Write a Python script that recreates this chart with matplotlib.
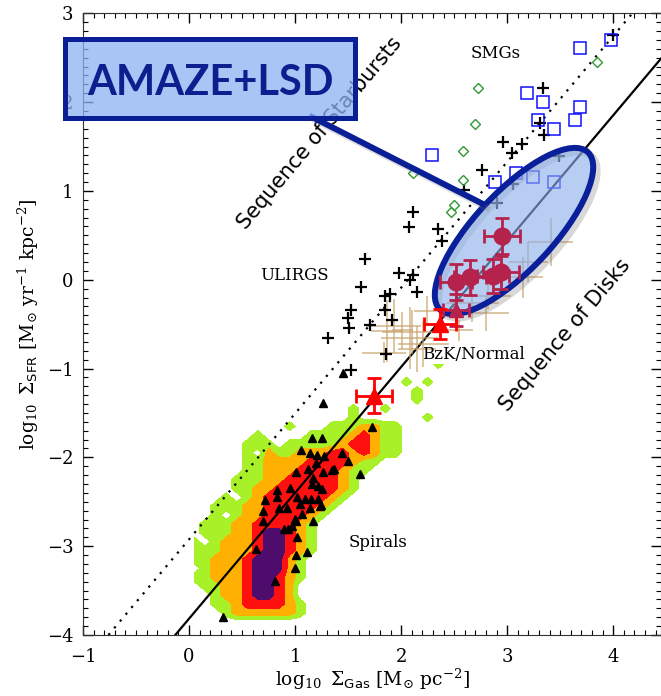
import numpy as np
import matplotlib
matplotlib.use("Agg")
import matplotlib.pyplot as plt
from matplotlib.patches import Ellipse, Rectangle
from matplotlib.lines import Line2D
from matplotlib.ticker import MultipleLocator

plt.rcParams['font.family'] = ['DejaVu Serif']
plt.rcParams['mathtext.fontset'] = 'dejavuserif'

# --- relations (sequence of disks / starbursts), end points ---
disk_x = [-0.13, 4.45]
disk_y = [-4.0, 2.49]
burst_x = [-0.76, 4.18]
burst_y = [-4.0, 3.0]

# local spirals (black triangles)
spirals = np.array([
    (1.261, -1.391), (1.157, -1.782), (1.251, -1.782), (1.057, -1.917), (1.141, -1.955),
    (1.211, -1.970), (1.274, -1.981), (1.198, -2.064), (1.126, -2.131), (1.009, -2.169),
    (1.267, -2.169), (1.167, -2.233), (1.157, -2.300), (0.833, -2.368), (0.953, -2.346),
    (0.717, -2.481), (0.833, -2.451), (1.016, -2.443), (1.094, -2.473), (1.148, -2.473),
    (1.220, -2.473), (1.047, -2.526), (0.928, -2.571), (0.701, -2.609), (0.852, -2.571),
    (1.141, -2.571), (1.236, -2.545), (1.069, -2.639), (1.000, -2.695), (0.695, -2.721),
    (0.896, -2.808), (0.937, -2.808), (1.009, -2.714), (1.173, -2.714), (0.975, -2.770),
    (1.016, -2.894), (0.632, -3.033), (1.110, -3.060), (1.009, -3.097), (1.000, -3.240),
    (0.811, -3.390), (0.318, -3.800), (1.450, -1.053), (1.726, -1.661), (1.440, -1.955),
    (1.503, -2.037), (1.346, -2.142), (1.368, -2.131), (1.613, -2.188), (1.214, -2.319),
    (1.258, -2.357), (1.245, -2.533),
])

# ULIRGs (black plus)
ulirgs = np.array([
    (3.995, 2.754), (3.336, 2.157), (3.311, 1.766), (3.350, 1.627), (2.958, 1.546),
    (3.138, 1.530), (3.046, 1.424), (2.761, 1.232), (3.486, 1.390), (3.056, 1.075),
    (2.902, 0.860), (2.594, 1.007), (2.352, 0.571), (2.384, 0.436), (2.116, 0.761),
    (2.072, 0.594), (1.657, 0.233), (1.975, 0.075), (2.107, 0.052), (2.079, -0.005),
    (1.624, -0.080), (2.148, -0.137), (1.849, -0.180), (1.896, -0.166), (1.846, -0.343),
    (1.525, -0.343), (1.497, -0.429), (1.511, -0.545), (1.703, -0.515), (1.312, -0.652),
    (1.915, -0.452), (1.859, -0.835), (1.528, -1.015),
])

# SMGs (open blue squares)
smgs = np.array([
    (3.682, 2.604), (3.981, 2.698), (3.185, 2.104), (3.336, 2.003), (3.682, 1.950),
    (3.286, 1.803), (3.635, 1.803), (3.437, 1.702), (2.887, 1.101), (3.085, 1.202),
    (3.239, 1.157), (3.437, 1.101), (2.289, 1.402),
])

# high-z starbursts (open green diamonds)
hiz_sb = np.array([
    (2.720, 2.160), (2.698, 1.758), (2.580, 1.450), (2.580, 1.120), (2.500, 0.838),
    (2.468, 0.763), (3.850, 2.454), (2.116, 1.200),
])

# BzK / normal galaxies (tan error crosses)
bzk_x = [1.93, 2.10, 2.08, 2.21, 1.84, 1.87, 2.24, 2.67, 2.80, 2.55, 3.20, 3.41, 2.82, 2.01, 2.15, 3.15]
bzk_y = [-0.52, -0.59, -0.66, -0.72, -0.82, -0.58, -0.35, -0.26, -0.38, -0.57, 0.20, 0.42, -0.18, -0.57, -0.78, 0.03]
bzk_xerr = [0.26, 0.28, 0.27, 0.24, 0.21, 0.15, 0.12, 0.25, 0.22, 0.13, 0.18, 0.21, 0.22, 0.10, 0.18, 0.19]
bzk_yerr = [0.30, 0.25, 0.35, 0.26, 0.12, 0.35, 0.17, 0.22, 0.20, 0.12, 0.23, 0.27, 0.15, 0.21, 0.26, 0.23]

# AMAZE + LSD
amaze_x = [2.950, 2.515, 2.648, 2.863, 2.942]
amaze_y = [0.490, -0.027, 0.026, 0.043, 0.082]
amaze_xerr = [0.17, 0.15, 0.15, 0.15, 0.17]
amaze_yerr = [0.20, 0.20, 0.20, 0.19, 0.19]
lsd_x = [2.515]
lsd_y = [-0.346]
lsd_xerr = [0.12]
lsd_yerr = [0.18]

# stacked points (big red triangles)
stack_x = [2.368, 1.745]
stack_y = [-0.496, -1.304]
stack_xerr = [0.15, 0.17]
stack_yerr = [0.17, 0.20]

# density of local spiral pixels: 0 none, 1 green, 2 orange, 3 red, 4 purple
dens_x = np.round(np.arange(0.05, 2.5, 0.1), 2)
dens_y = np.round(np.arange(-0.95, -3.9, -0.1), 2)
dens_rows = [
    "0000000000000000000000010",
    "0000000000000000000000000",
    "0000000000000000000010100",
    "0000000000000000000001000",
    "0000000000000000000001000",
    "0000000000000001001000000",
    "0000000000000001000000100",
    "0000000001000111221100000",
    "0000001000011112321100000",
    "0000011101111123321100000",
    "0000010211222332321100000",
    "0000011222233332110000000",
    "0000011222333321100000000",
    "0000111223333321000000000",
    "0000112233333321000000000",
    "0001012333333210000000000",
    "0011122333332100000000000",
    "0010122333321000000000000",
    "0111223333210000000000000",
    "0111223443210000000000000",
    "1012223443210000000000000",
    "1112223443210000000000000",
    "1122234442100000000000000",
    "0122234442100000000000000",
    "1122234432100000000000000",
    "0112234432000000000000000",
    "0012234432000000000000000",
    "0011233332100000000000000",
    "0001222222100000000000000",
    "0000000000000000000000000",
]
dens = np.array([[int(c) for c in r] for r in dens_rows])

labels = ["SMGs", "ULIRGS", "BzK/Normal", "Spirals"]
label_x = [2.89, 0.995, 2.68, 1.78]
label_y = [2.55, 0.05, -0.84, -2.96]

fig = plt.figure(figsize=(6.61, 6.96), dpi=100)
ax = fig.add_axes([83 / 661, 61 / 696, 578 / 661, 621.7 / 696])

ax.contourf(dens_x, dens_y[::-1], dens[::-1], levels=[0.5, 1.5, 2.5, 3.5, 4.5],
            colors=['#a8f028', '#ffb000', '#ff1010', '#4e0c6c'], zorder=1)

ax.plot(disk_x, disk_y, color='black', lw=1.6, zorder=2)
ax.plot(burst_x, burst_y, color='black', lw=1.6, ls=(0, (1, 3)), zorder=2)

ax.plot(spirals[:, 0], spirals[:, 1], '^', color='black', ms=5.5, zorder=3)

ax.errorbar(bzk_x, bzk_y, xerr=bzk_xerr, yerr=bzk_yerr, fmt='none',
            ecolor='#c9a46e', elinewidth=1.2, alpha=0.75, zorder=3)

ax.plot(ulirgs[:, 0], ulirgs[:, 1], '+', color='black', ms=8, mew=1.6, zorder=4)
ax.plot(smgs[:, 0], smgs[:, 1], 's', mfc='none', mec='#1010ff', ms=8, mew=1.1, zorder=4)
ax.plot(hiz_sb[:, 0], hiz_sb[:, 1], 'D', mfc='none', mec='#2f9a2f', ms=5, mew=1.0, zorder=4)

# highlighted ellipse (pixel based, inches transform)
tr = fig.dpi_scale_trans
ax.add_patch(Ellipse((5.18, (696 - 235) / 100), 2.16, 0.78, angle=46.8, transform=tr,
                     facecolor='none', edgecolor='gray', lw=5, alpha=0.3, zorder=4.8,
                     clip_on=False))
ax.add_patch(Ellipse((5.14, (696 - 231) / 100), 2.16, 0.78, angle=46.8, transform=tr,
                     facecolor=(0.55, 0.69, 0.92, 0.62), edgecolor='#0a209a', lw=4.3,
                     zorder=5, clip_on=False))

ax.errorbar(amaze_x, amaze_y, xerr=amaze_xerr, yerr=amaze_yerr, fmt='o', color='#b5234d',
            ms=12, elinewidth=2, capsize=5, capthick=2, zorder=6)
ax.errorbar(lsd_x, lsd_y, xerr=lsd_xerr, yerr=lsd_yerr, fmt='^', color='#b5234d',
            ms=10, elinewidth=2, capsize=5, capthick=2, zorder=6)
ax.errorbar(stack_x, stack_y, xerr=stack_xerr, yerr=stack_yerr, fmt='^', color='#ff0000',
            ms=12, elinewidth=2, capsize=5, capthick=2, zorder=6)

for t, x, y in zip(labels, label_x, label_y):
    ax.text(x, y, t, ha='center', va='center', fontsize=12, zorder=7)

ax.text(1.236, 1.649, "Sequence of Starbursts", family='DejaVu Sans', fontsize=15,
        rotation=50, rotation_mode='anchor', ha='center', va='center', zorder=7)
ax.text(3.547, -0.628, "Sequence of Disks", family='DejaVu Sans', fontsize=15,
        rotation=50, rotation_mode='anchor', ha='center', va='center', zorder=7)

# callout box + pointer
ax.add_line(Line2D([3.16, 4.87], [(696 - 121) / 100, (696 - 208) / 100], transform=tr,
                   color='gray', lw=4.3, alpha=0.25, zorder=7.9, clip_on=False))
ax.add_line(Line2D([3.12, 4.83], [(696 - 117) / 100, (696 - 204) / 100], transform=tr,
                   color='#0a1f96', lw=4.3, zorder=8, clip_on=False))
ax.add_patch(Rectangle((0.645, (696 - 117.5) / 100), 2.90, 0.78, transform=tr,
                       facecolor='#8cb2f3', edgecolor='none', alpha=0.75, zorder=8,
                       clip_on=False))
ax.add_patch(Rectangle((0.645, (696 - 117.5) / 100), 2.90, 0.78, transform=tr,
                       facecolor='none', edgecolor='#0a1f96', lw=3.6, zorder=8.1,
                       clip_on=False))
ax.text(2.10, (696 - 83) / 100, "AMAZE+LSD", transform=tr, family='Lato', weight='bold',
        fontsize=30, color='#0d1f8f', ha='center', va='center', zorder=9, clip_on=False)

ax.set_xlim(-1, 4.45)
ax.set_ylim(-4, 3)
ax.xaxis.set_major_locator(MultipleLocator(1))
ax.xaxis.set_minor_locator(MultipleLocator(0.1))
ax.yaxis.set_major_locator(MultipleLocator(1))
ax.yaxis.set_minor_locator(MultipleLocator(0.1))
ax.tick_params(which='both', direction='in', top=True, right=True, labelsize=13)
ax.tick_params(which='major', length=7, width=1)
ax.tick_params(which='minor', length=3.5, width=0.8)
ax.tick_params(axis='x', pad=9)
ax.tick_params(axis='y', pad=7)
for s in ax.spines.values():
    s.set_color('#333333')

ax.set_xlabel(r'$\log_{10}\ \Sigma_{\mathsf{Gas}}\ [\mathrm{M}_{\odot}\ \mathrm{pc}^{-2}]$',
              fontsize=13.5, labelpad=1)
ax.set_ylabel(r'$\log_{10}\ \Sigma_{\mathsf{SFR}}\ [\mathrm{M}_{\odot}\ \mathrm{yr}^{-1}\ \mathrm{kpc}^{-2}]$',
              fontsize=13.5)

fig.savefig("out.png", dpi=100)
